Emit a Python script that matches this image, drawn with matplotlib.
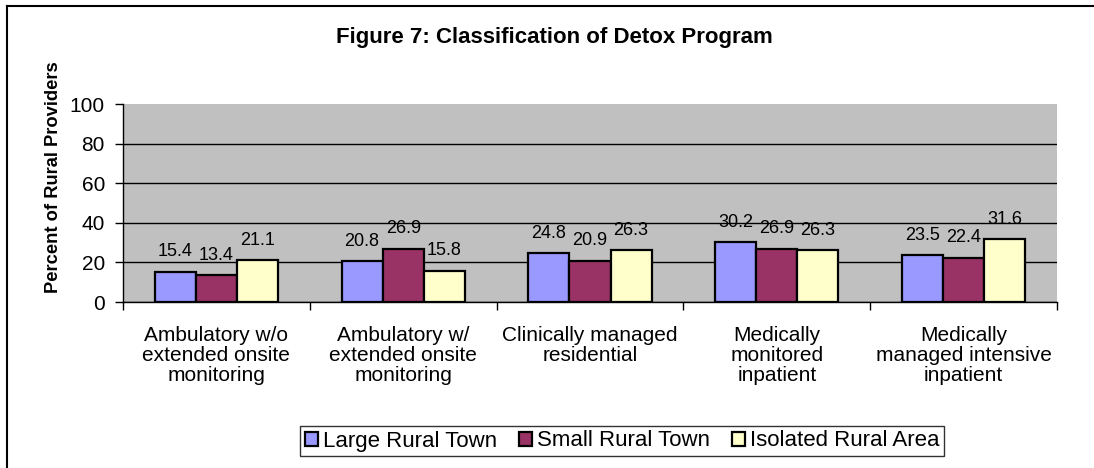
import matplotlib
matplotlib.use("Agg")
import matplotlib.pyplot as plt
from matplotlib.lines import Line2D
import numpy as np

plt.rcParams['font.family'] = ['Liberation Sans', 'DejaVu Sans']

categories = ["Ambulatory w/o\nextended onsite\nmonitoring",
              "Ambulatory w/\nextended onsite\nmonitoring",
              "Clinically managed\nresidential",
              "Medically\nmonitored\ninpatient",
              "Medically\nmanaged intensive\ninpatient"]
series_names = ["Large Rural Town", "Small Rural Town", "Isolated Rural Area"]
large = [15.4, 20.8, 24.8, 30.2, 23.5]
small = [13.4, 26.9, 20.9, 26.9, 22.4]
isolated = [21.1, 15.8, 26.3, 26.3, 31.6]
yticks = [0, 20, 40, 60, 80, 100]
colors = ["#9999FF", "#993366", "#FFFFCC"]

W, H = 1094, 468
fig = plt.figure(figsize=(W/100, H/100), dpi=100)
ax = fig.add_axes([123/W, 1-302/H, (1057-123)/W, (302-104)/H])
ax.set_facecolor("#C0C0C0")

x = np.arange(len(categories))
bw = 0.22
for i, (vals, c, n) in enumerate(zip([large, small, isolated], colors, series_names)):
    pos = x + (i-1)*bw
    ax.bar(pos, vals, bw, color=c, edgecolor="black", linewidth=1.6, label=n, zorder=3)
    for p, v in zip(pos, vals):
        ax.annotate(f"{v:.1f}", (p, v), xytext=(0, 11), textcoords="offset points",
                    ha="center", va="baseline", fontsize=13, zorder=4)

ax.set_xlim(-0.5, len(categories)-0.5)
ax.set_ylim(yticks[0], yticks[-1])
ax.set_yticks(yticks)
ax.tick_params(axis='y', labelsize=15, length=6, width=1, pad=7)
ax.yaxis.grid(True, color="black", linewidth=1)
ax.yaxis.get_gridlines()[-1].set_visible(False)
ax.set_axisbelow(True)
ax.set_xticks(np.arange(-0.5, len(categories)))
ax.set_xticklabels([])
ax.tick_params(axis='x', length=6, width=1, direction='out')
for xi, lab in zip(x, categories):
    ax.annotate(lab, (xi, 0), xytext=(0, -17), textcoords="offset points",
                ha="center", va="top", fontsize=15, linespacing=1.08)
for s in ["top", "right"]:
    ax.spines[s].set_visible(False)
ax.spines["left"].set_linewidth(1)
ax.spines["bottom"].set_linewidth(1)

fig.text(54/W, 1-177.5/H, "Percent of Rural Providers", rotation=90, ha="center", va="center",
         fontsize=13.2, fontweight="bold")
fig.text(554/W, 1-43/H, "Figure 7: Classification of Detox Program", ha="center", va="baseline",
         fontsize=16, fontweight="bold")

leg = fig.legend(loc="center", bbox_to_anchor=(622/W, 1-441/H), ncol=3, fontsize=16,
                 frameon=True, fancybox=False, edgecolor="black", handlelength=0.6,
                 handleheight=0.6, handletextpad=0.2, columnspacing=1.0, borderpad=0.2,
                 borderaxespad=0)
leg.get_frame().set_linewidth(1)
for h in leg.legend_handles:
    h.set_linewidth(1.6)

# outer frame (left and top)
fig.add_artist(Line2D([6.5/W, 6.5/W], [0, 1-6/H], color="black", linewidth=1.5, transform=fig.transFigure))
fig.add_artist(Line2D([6.5/W, 1], [1-6/H, 1-6/H], color="black", linewidth=1.5, transform=fig.transFigure))

fig.savefig("out.png", dpi=100, facecolor="white")
